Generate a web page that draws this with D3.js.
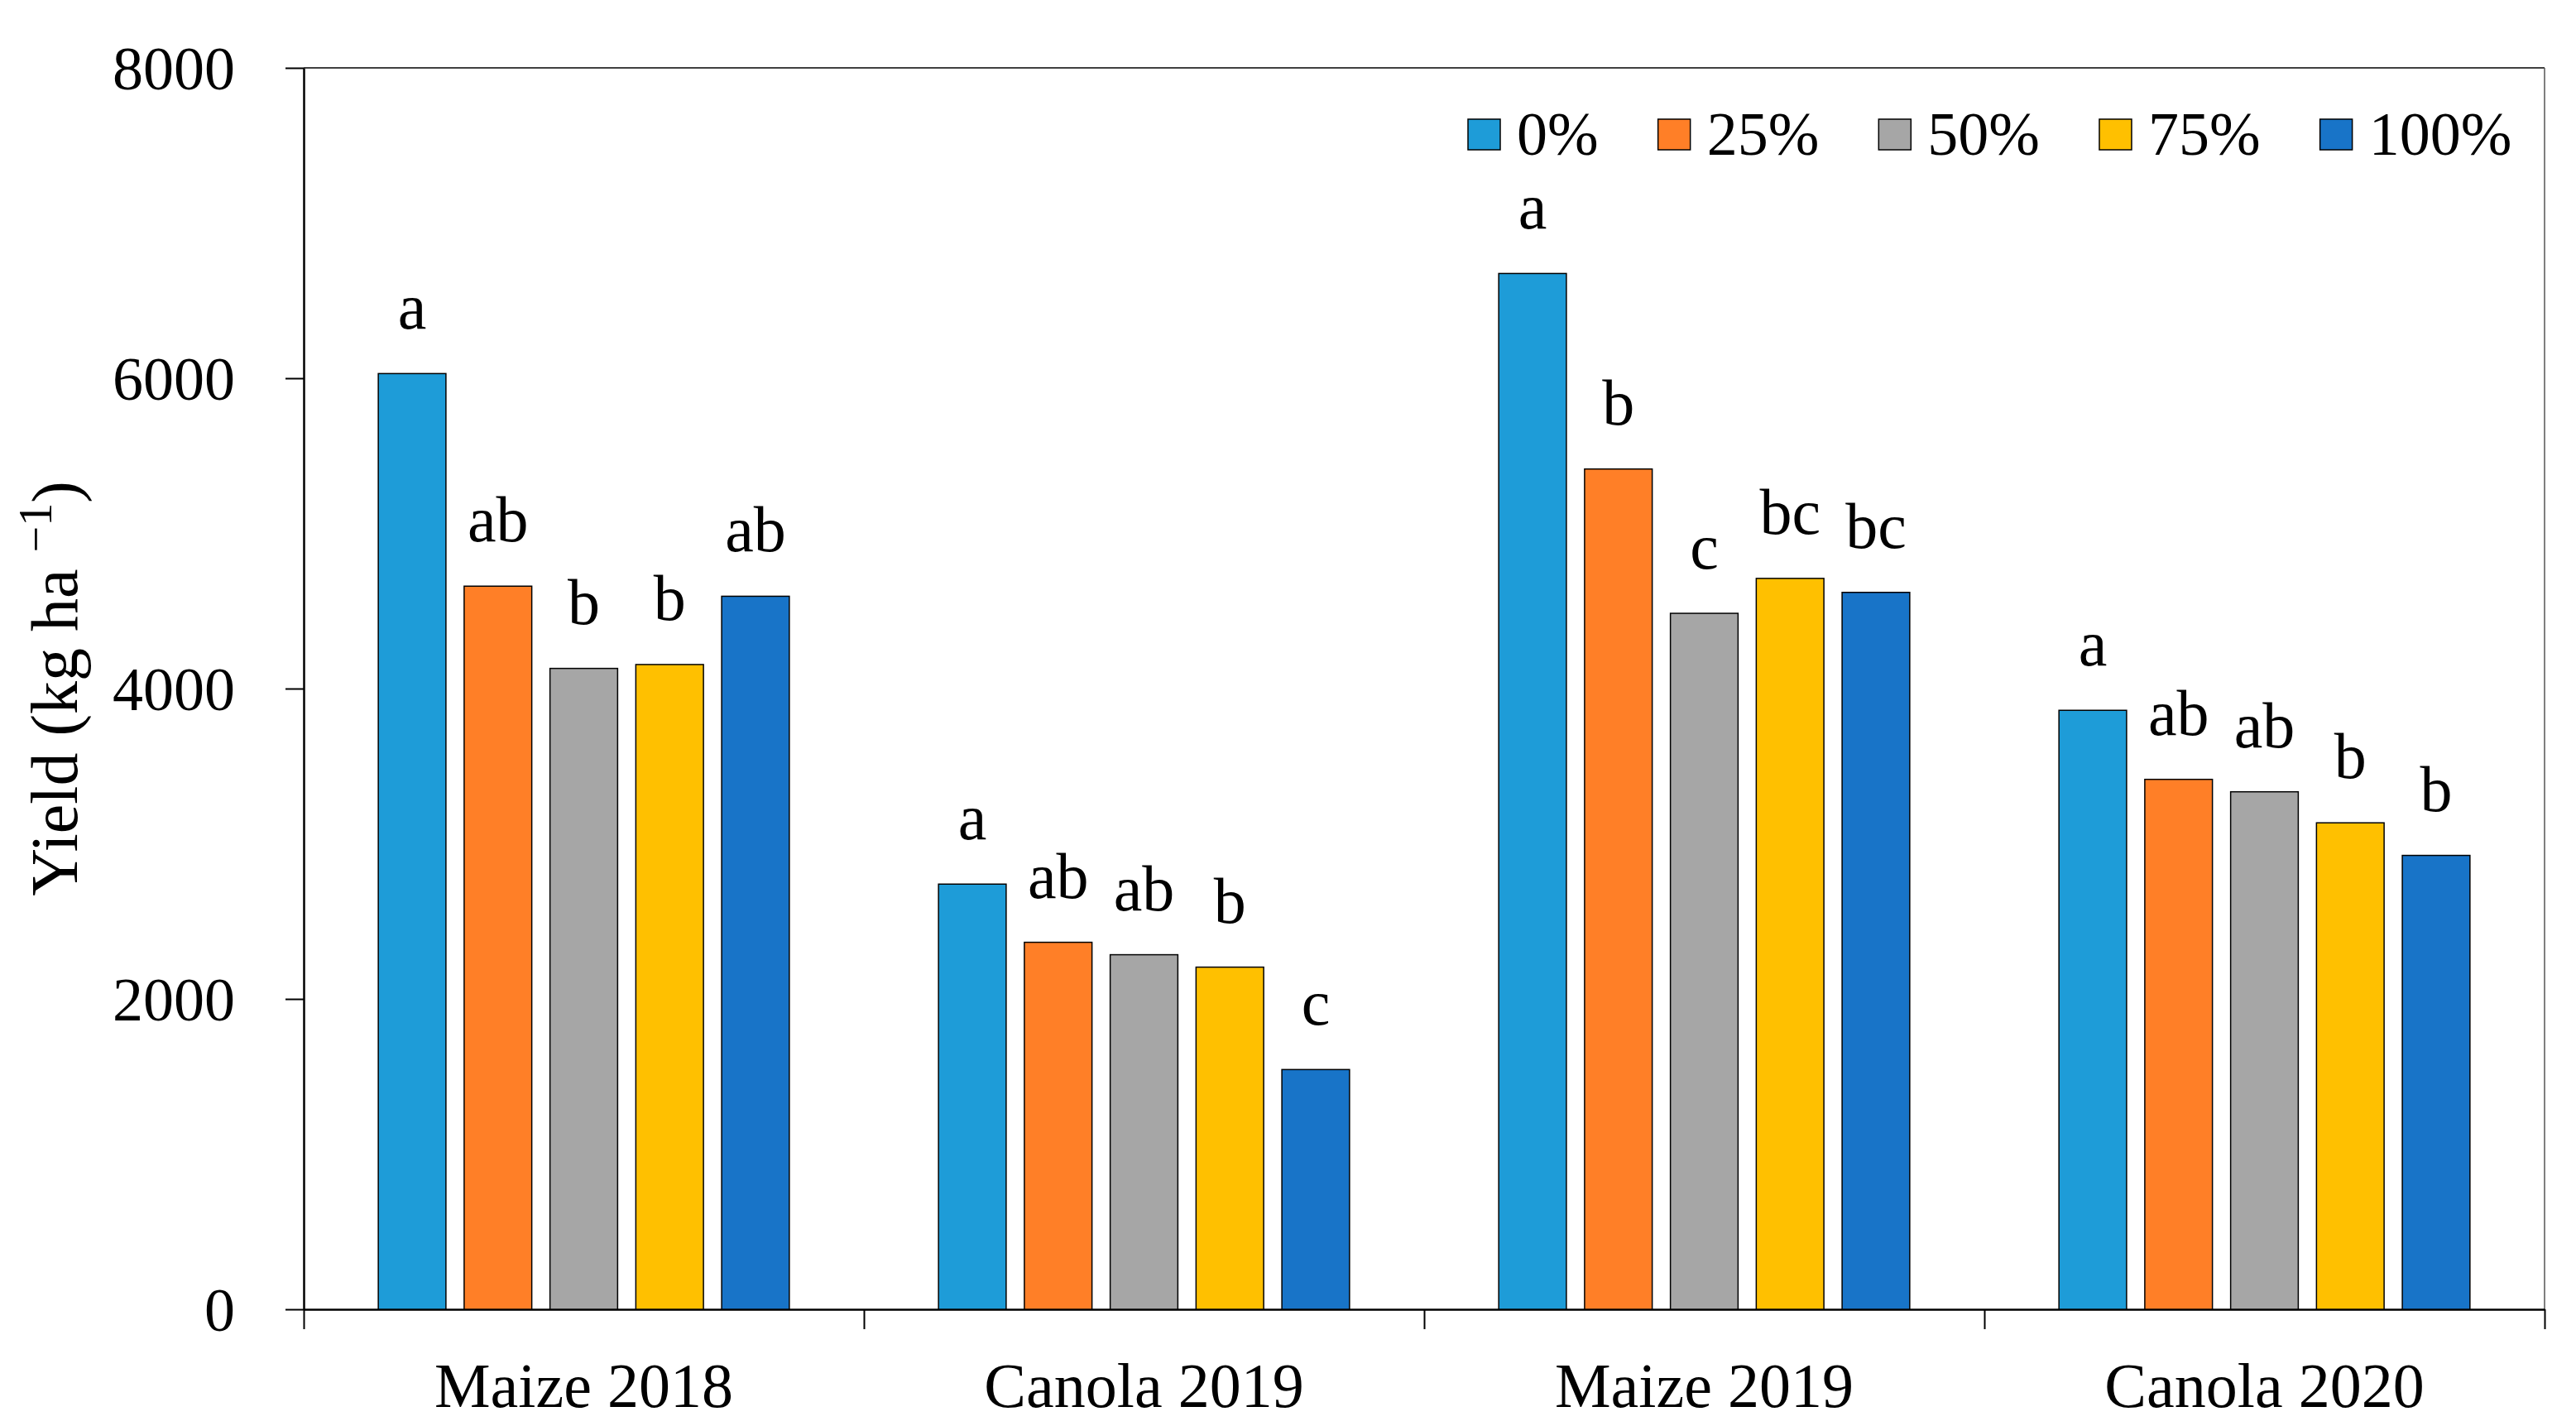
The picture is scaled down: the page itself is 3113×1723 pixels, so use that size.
<!DOCTYPE html>
<html>
<head>
<meta charset="utf-8">
<script src="https://cdn.jsdelivr.net/npm/d3@7"></script>
<style>
  body { margin: 0; background: #fff; }
  text { font-family: "Liberation Serif", "Times New Roman", serif; fill: #000; }
</style>
</head>
<body>
<svg id="chart" width="3113" height="1723"></svg>
<script>
// Data
const categories = ["Maize 2018", "Canola 2019", "Maize 2019", "Canola 2020"];
const treatments = ["0%", "25%", "50%", "75%", "100%"];
const colors = ["#1e9cd8", "#ff7f27", "#a6a6a6", "#ffc000", "#1874c8"];

// yield per treatment, one value per category
const yield0 = [6030, 2740, 6675, 3860];
const yield25 = [4660, 2365, 5415, 3415];
const yield50 = [4130, 2285, 4485, 3335];
const yield75 = [4155, 2205, 4710, 3135];
const yield100 = [4595, 1545, 4620, 2925];

// significance letters per treatment
const letters0 = ["a", "a", "a", "a"];
const letters25 = ["ab", "ab", "b", "ab"];
const letters50 = ["b", "ab", "c", "ab"];
const letters75 = ["b", "b", "bc", "b"];
const letters100 = ["ab", "c", "bc", "b"];

const yTicks = [0, 2000, 4000, 6000, 8000];

const series = [yield0, yield25, yield50, yield75, yield100];
const letterSets = [letters0, letters25, letters50, letters75, letters100];

const svg = d3.select("#chart");
const margin = { left: 367, right: 3113 - 3075, top: 82, bottom: 1723 - 1582 };
const width = 3113 - margin.left - margin.right;
const height = 1723 - margin.top - margin.bottom;

const g = svg.append("g").attr("transform", `translate(${margin.left},${margin.top})`);

const x0 = d3.scaleBand().domain(categories).range([0, width]).padding(0);
const x1 = d3.scaleBand()
  .domain(treatments)
  .range([0, x0.bandwidth()])
  .paddingInner(0.212)
  .paddingOuter(0.869);
const y = d3.scaleLinear().domain([0, 8000]).range([height, 0]);

// frame (top and right)
g.append("line").attr("x1", 0).attr("x2", width).attr("y1", 0).attr("y2", 0)
  .attr("stroke", "#000").attr("stroke-width", 1.5);
g.append("line").attr("x1", width).attr("x2", width).attr("y1", 0).attr("y2", height)
  .attr("stroke", "#555").attr("stroke-width", 1.5);

// y axis
const yAxis = g.append("g")
  .call(d3.axisLeft(y).tickValues(yTicks).tickSize(22).tickSizeOuter(0).tickPadding(61).tickFormat(d3.format("d")));
yAxis.select(".domain").attr("stroke-width", 2.5);
yAxis.selectAll(".tick line").attr("stroke-width", 2);
yAxis.selectAll(".tick text")
  .attr("font-size", 74)
  .attr("font-family", "Liberation Serif")
  .attr("dy", "0.35em");

// x axis: ticks at category boundaries
const xb = d3.scaleLinear().domain([0, categories.length]).range([0, width]);
const xAxis = g.append("g")
  .attr("transform", `translate(0,${height})`)
  .call(d3.axisBottom(xb).tickValues(d3.range(categories.length + 1)).tickSize(24).tickSizeOuter(0).tickFormat(""));
xAxis.select(".domain").attr("stroke-width", 2.5);
xAxis.selectAll(".tick line").attr("stroke-width", 2);

g.append("g").selectAll("text")
  .data(categories)
  .join("text")
  .attr("x", d => x0(d) + x0.bandwidth() / 2)
  .attr("y", height + 118)
  .attr("text-anchor", "middle")
  .attr("font-size", 76)
  .text(d => d);

// bars
const rows = [];
series.forEach((vals, i) => {
  vals.forEach((v, j) => {
    rows.push({ cat: categories[j], trt: treatments[i], color: colors[i], value: v, letter: letterSets[i][j] });
  });
});

g.append("g").selectAll("rect")
  .data(rows)
  .join("rect")
  .attr("x", d => x0(d.cat) + x1(d.trt))
  .attr("y", d => y(d.value))
  .attr("width", x1.bandwidth())
  .attr("height", d => height - y(d.value))
  .attr("fill", d => d.color)
  .attr("stroke", "#000")
  .attr("stroke-width", 1.5);

g.append("g").selectAll("text")
  .data(rows)
  .join("text")
  .attr("x", d => x0(d.cat) + x1(d.trt) + x1.bandwidth() / 2)
  .attr("y", d => y(d.value) - 54)
  .attr("text-anchor", "middle")
  .attr("font-size", 78)
  .text(d => d.letter);

// y axis title
const yTitle = svg.append("text")
  .attr("transform", `translate(93,${margin.top + height / 2}) rotate(-90)`)
  .attr("text-anchor", "middle")
  .attr("font-size", 80);
yTitle.append("tspan").text("Yield (kg ha ");
yTitle.append("tspan").attr("font-size", 56).attr("dy", "-0.55em").text("\u22121");
yTitle.append("tspan").attr("dy", "0.4em").text(")");

// legend
const legend = svg.append("g").attr("transform", "translate(1774,0)");
let lx = 0;
treatments.forEach((t, i) => {
  const item = legend.append("g").attr("transform", `translate(${lx},0)`);
  item.append("rect")
    .attr("x", 0).attr("y", 144)
    .attr("width", 39).attr("height", 37)
    .attr("fill", colors[i])
    .attr("stroke", "#000").attr("stroke-width", 1.5);
  const txt = item.append("text")
    .attr("x", 59).attr("y", 187)
    .attr("font-size", 74)
    .text(t);
  lx += 59 + txt.node().getComputedTextLength() + 72;
});
</script>
</body>
</html>
